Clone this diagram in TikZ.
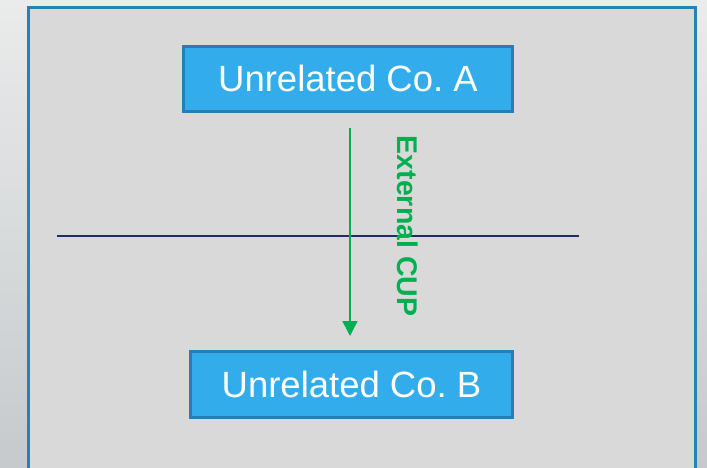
\documentclass[tikz,border=0pt]{standalone}
\usepackage{fontspec}
\setmainfont{Liberation Sans}
\usetikzlibrary{arrows.meta}
\definecolor{bgtop}{HTML}{EAEBEB}
\definecolor{bgbot}{HTML}{C6CACC}
\definecolor{panel}{HTML}{D9D9D9}
\definecolor{panelborder}{HTML}{2A7FB6}
\definecolor{boxfill}{HTML}{32ACEB}
\definecolor{boxborder}{HTML}{2A7DB4}
\definecolor{cupgreen}{HTML}{00B050}
\definecolor{navy}{HTML}{1F2F66}
\tikzset{
  company/.style={draw=boxborder, line width=3pt, fill=boxfill, text=white,
    inner sep=0pt, font=\fontsize{36.5}{40}\selectfont},
  flow/.style={draw=cupgreen, line width=1.5pt, -{Triangle[width=15pt,length=15pt]}},
  divider/.style={draw=navy, line width=2pt},
  flowlabel/.style={text=cupgreen, font=\bfseries\fontsize{28.5}{32}\selectfont, inner sep=0pt, rotate=-90}
}
\begin{document}
\frenchspacing
\begin{tikzpicture}[x=1pt,y=-1pt]
\clip (0,0) rectangle (707,467);
\shade[top color=bgtop, bottom color=bgbot] (0,0) rectangle (707,467);
\draw[panelborder, line width=3pt, fill=panel] (28,7.5) rectangle (695,480);
\node[company, minimum width=329pt, minimum height=65pt] (coa) at (348,78.5) {Unrelated Co.\ A};
\node[company, minimum width=322pt, minimum height=66pt] (cob) at (351.5,384.5) {Unrelated Co.\ B};
\coordinate (lineL) at (57,235.5);
\coordinate (lineR) at (579,235.5);
\draw[divider] (lineL) -- (lineR);
\coordinate (arrS) at (350,128);
\coordinate (arrE) at (350,336);
\draw[flow] (arrS) -- (arrE);
\node[flowlabel] (cup) at (408,226) {External CUP};
\end{tikzpicture}
\end{document}
